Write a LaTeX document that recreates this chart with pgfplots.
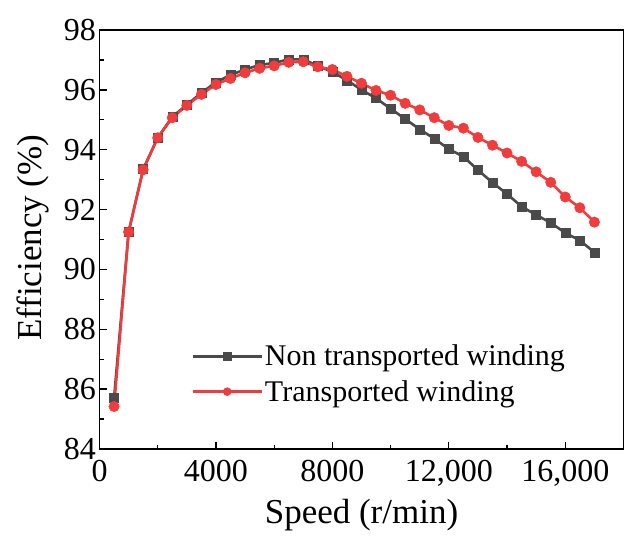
\documentclass[border=0pt]{standalone}
\usepackage{pgfplots}
\pgfplotsset{compat=1.18}
\usepackage{fontspec}
\setmainfont{Liberation Serif}
\definecolor{cgray}{RGB}{74,74,74}
\definecolor{cred}{RGB}{240,60,60}
\begin{document}
\begin{tikzpicture}
\useasboundingbox (0,0) rectangle (640bp,550bp);
\begin{axis}[
  at={(99.5bp,101bp)}, anchor=south west,
  width=524bp, height=419bp, scale only axis,
  xmin=0, xmax=18000, ymin=84, ymax=98,
  scaled x ticks=false,
  xtick={0,4000,8000,12000,16000},
  xticklabels={0,4000,8000,{12,000},{16,000}},
  ytick={84,86,88,90,92,94,96,98},
  yticklabels={84,86,88,90,92,94,96,98},
  minor x tick num=1, minor y tick num=1,
  xtick pos=bottom, ytick pos=left,
  tick align=inside,
  major tick length=7bp, minor tick length=4bp,
  every tick/.style={black, line width=1.3bp},
  axis line style={line width=1.6bp, black},
  ticklabel style={font=\fontsize{32bp}{38bp}\selectfont},
  xticklabel style={yshift=-8bp},
  xlabel={Speed (r/min)}, ylabel={Efficiency (\%)},
  label style={font=\fontsize{35bp}{42bp}\selectfont},
  xlabel style={at={(axis description cs:0.5,-0.158)}, anchor=center},
  ylabel style={at={(axis description cs:-0.127,0.504)}, anchor=center, rotate=0},
  legend cell align=left,
  legend style={draw=none, fill=none, at={(0.175,0.253)}, anchor=north west,
    font=\fontsize{30bp}{36bp}\selectfont, row sep=9bp, inner sep=0pt,
    /tikz/every even column/.append style={column sep=0bp}},
  legend image code/.code={%
    \draw[#1, mark size=4bp, mark repeat=2, mark phase=2]
      plot coordinates {(0bp,0bp) (34.5bp,0bp) (69bp,0bp)};},
]
\addplot[cgray, line width=2.6bp, mark=square*, mark size=4.5bp, mark options={solid, fill=cgray, line width=0.5bp}] coordinates {
(500,85.7) (1000,91.25) (1500,93.35) (2000,94.4) (2500,95.1) (3000,95.5)
(3500,95.9) (4000,96.25) (4500,96.5) (5000,96.68) (5500,96.83) (6000,96.9)
(6500,97.02) (7000,97.02) (7500,96.8) (8000,96.6) (8500,96.32) (9000,96.0)
(9500,95.72) (10000,95.37) (10500,95.03) (11000,94.68) (11500,94.37) (12000,94.02)
(12500,93.77) (13000,93.32) (13500,92.9) (14000,92.52) (14500,92.1) (15000,91.82)
(15500,91.56) (16000,91.22) (16500,90.97) (17000,90.57)
};
\addlegendentry{Non transported winding}
\addplot[cred, line width=2.6bp, mark=*, mark size=5.2bp, mark options={solid, fill=cred, line width=0.5bp}] coordinates {
(500,85.42) (1000,91.25) (1500,93.33) (2000,94.4) (2500,95.07) (3000,95.48)
(3500,95.85) (4000,96.18) (4500,96.38) (5000,96.57) (5500,96.72) (6000,96.8)
(6500,96.92) (7000,96.94) (7500,96.77) (8000,96.68) (8500,96.45) (9000,96.22)
(9500,95.98) (10000,95.82) (10500,95.55) (11000,95.33) (11500,95.07) (12000,94.81)
(12500,94.72) (13000,94.41) (13500,94.15) (14000,93.89) (14500,93.61) (15000,93.26)
(15500,92.91) (16000,92.42) (16500,92.06) (17000,91.58)
};
\addlegendentry{Transported winding}
\end{axis}
\end{tikzpicture}
\end{document}
